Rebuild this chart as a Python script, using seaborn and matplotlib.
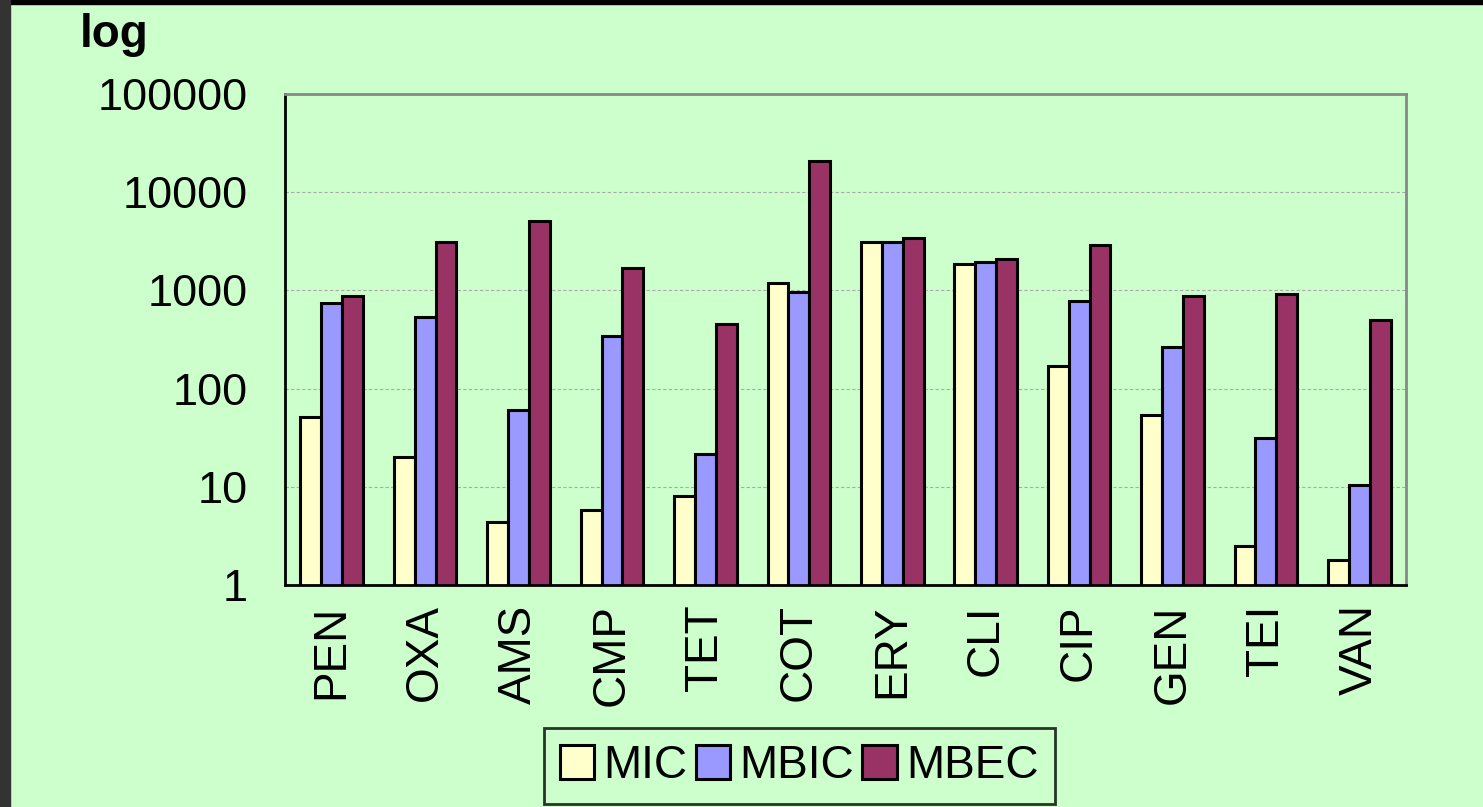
import matplotlib
matplotlib.use("Agg")
import matplotlib.pyplot as plt
import matplotlib.ticker as mticker
from matplotlib.patches import Rectangle
import numpy as np
import pandas as pd
import seaborn as sns

antibiotics = ['PEN', 'OXA', 'AMS', 'CMP', 'TET', 'COT',
               'ERY', 'CLI', 'CIP', 'GEN', 'TEI', 'VAN']
mic = [51, 20, 4.4, 5.8, 8, 1190, 3100, 1850, 170, 54, 2.5, 1.8]
mbic = [745, 535, 60, 345, 21.6, 965, 3100, 1950, 780, 265, 31.4, 10.4]
mbec = [870, 3100, 5100, 1700, 455, 20700, 3400, 2100, 2900, 880, 920, 500]
series = ['MIC', 'MBIC', 'MBEC']
colors = ['#FFFFCC', '#9999FF', '#993366']

df = pd.DataFrame({'antibiotic': antibiotics * 3,
                   'value': mic + mbic + mbec,
                   'measure': [s for s in series for _ in antibiotics]})

sns.set_style('white')
plt.rcParams['font.family'] = ['Liberation Sans', 'DejaVu Sans']
plt.rcParams['text.color'] = 'black'
plt.rcParams['xtick.color'] = 'black'
plt.rcParams['ytick.color'] = 'black'
bg = '#CCFFCC'

fig = plt.figure(figsize=(14.83, 8.07), dpi=100, facecolor=bg)
ax = fig.add_axes([0.1922, 0.2751, 0.7559, 0.6084])
ax.set_facecolor(bg)
ax.set_yscale('log')

sns.barplot(data=df, x='antibiotic', y='value', hue='measure',
            palette=colors, hue_order=series, order=antibiotics,
            width=0.67, saturation=1, edgecolor='black', linewidth=2.2,
            ax=ax, legend=True)

ax.set_ylim(1, 100000)
ax.set_xlim(-0.5, len(antibiotics) - 0.5)
ax.yaxis.set_major_locator(mticker.LogLocator(base=10, numticks=10))
ax.yaxis.set_minor_locator(mticker.NullLocator())
ax.yaxis.set_major_formatter(mticker.FuncFormatter(lambda v, p: f'{int(round(v))}'))
ax.grid(axis='y', color='#aaaaaa', linestyle=(0, (3, 2)), linewidth=0.8)
ax.set_axisbelow(True)

ax.set_xticks(np.arange(len(antibiotics)))
ax.set_xticklabels(antibiotics, rotation=90)
ax.set_xticks(np.arange(-0.5, len(antibiotics)), minor=True)
ax.tick_params(axis='x', which='major', length=0, pad=14, labelsize=33)
ax.tick_params(axis='x', which='minor', length=10, width=2, color='black',
               direction='out')
ax.tick_params(axis='y', which='major', length=10, width=2, color='black',
               direction='out', labelsize=32.5, pad=17)
ax.set_xlabel('')
ax.set_ylabel('')

for side in ['left', 'bottom']:
    ax.spines[side].set_color('black')
    ax.spines[side].set_linewidth(2)
for side in ['top', 'right']:
    ax.spines[side].set_color('#888888')
    ax.spines[side].set_linewidth(2)
    ax.spines[side].set_visible(True)

handles, labels = ax.get_legend_handles_labels()
ax.get_legend().remove()
leg = fig.legend(handles, labels, loc='lower center', ncol=3,
                 bbox_to_anchor=(0.539, 0.004), fontsize=33, frameon=True,
                 fancybox=False, edgecolor='black', facecolor=bg,
                 handlelength=0.75, handleheight=0.75, handletextpad=0.2,
                 columnspacing=0.18, borderpad=0.35, borderaxespad=0)
leg.get_frame().set_linewidth(2)

fig.text(0.054, 0.957, 'log', fontsize=33, fontweight='bold',
         va='center', ha='left')

# dark frame strips at top and left edges
fig.patches.append(Rectangle((0, 0.995), 1, 0.005, transform=fig.transFigure,
                             color='black', zorder=10))
fig.patches.append(Rectangle((0, 0), 0.0067, 1, transform=fig.transFigure,
                             color='#333333', zorder=10))

fig.savefig('out.png', dpi=100, facecolor=bg)
